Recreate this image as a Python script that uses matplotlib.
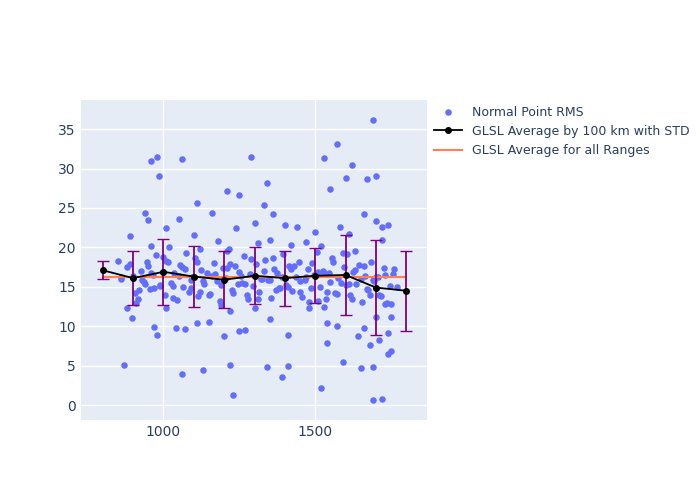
import matplotlib.pyplot as plt

pts_x = [870,980,985,960,1060,1110,1210,1250,1290,1340,1330,1570,1600,1620,1530,1550,1690,1700,1670,1660,1720,1740,
1390,1410,1340,1220,1230,1130,1060,1520,1690,1720,1690,1650,1750,1740,1680,1540,1590,980,1070,1200,1040,970,1110,1250,1270,
1350,1410,1540,1570,1640,1660,1700,1750,1710,1740,895,880,1010,1150,1220,1300,1480,1530,
940,950,960,1010,1020,1050,1100,1120,1160,1180,1210,1240,1300,1310,1350,1360,1400,1420,1440,1470,1500,1520,1580,1610,1630,1700,1720,1760,
850,860,880,890,900,905,915,925,935,945,955,965,975,990,1000,1005,1015,1025,1035,1045,1055,1065,1075,1085,1095,1105,1115,1125,1135,
1145,1155,1165,1175,1185,1195,1205,1215,1225,1235,1245,1255,1265,1275,1285,1295,1305,1315,1325,1335,1345,1355,1365,1375,1385,1395,
1405,1415,1425,1435,1445,1455,1465,1475,1485,1495,1505,1515,1525,1535,1545,1555,1565,1575,1585,1595,1605,1615,1625,1635,1645,1655,
1665,1675,1685,1695,1705,1715,1725,1735,1745,1755,1770,
860,890,910,930,950,970,990,1010,1030,1050,1070,1090,1110,1130,1150,1170,1190,1210,1230,1250,1270,1290,1310,1330,1350,1370,1390,
1410,1430,1450,1470,1490,1510,1530,1550,1570,1590,1610,1630,1650,1670,1690,1710,1730,1750,
920,940,960,1000,1030,1060,1090,1120,1160,1190,1220,1260,1280,1320,1360,1380,1420,1450,1480,1510,1540,1560,1600,1620,1660,1680,1700,1730]
pts_y = [5.1,31.5,29.0,31.0,31.2,25.6,27.1,26.6,31.5,28.2,25.4,33.1,28.8,30.5,31.3,27.4,36.1,29.1,28.7,24.2,22.6,22.8,
3.6,4.9,4.8,5.1,1.3,4.5,3.9,2.2,0.7,0.8,4.8,4.7,6.8,6.5,7.6,7.9,5.5,8.9,9.6,8.8,9.8,9.9,10.4,9.4,9.5,
10.9,8.9,10.4,10.0,8.8,9.8,11.2,11.2,8.2,9.1,11.0,12.3,12.3,10.5,11.9,12.3,12.3,12.5,
24.4,23.5,20.2,22.4,20.0,23.6,21.6,19.8,24.3,20.8,19.6,22.4,23.1,20.6,21.0,24.2,22.9,20.3,22.6,20.7,21.9,20.2,22.6,21.7,19.6,23.4,21.0,17.2,
18.3,16.0,17.5,21.5,16.4,14.2,13.5,17.0,15.6,18.2,14.7,16.5,19.0,15.2,16.9,14.0,18.1,15.5,16.7,13.3,17.8,15.0,19.3,14.4,16.2,18.6,13.8,17.1,15.4,
16.8,14.1,18.0,15.7,13.2,17.4,16.1,19.8,14.6,17.7,15.3,16.4,18.9,13.9,16.6,15.1,17.9,14.3,16.0,18.4,15.8,13.6,17.3,16.7,14.9,19.1,
15.2,17.6,14.5,16.3,18.2,13.7,15.9,17.2,14.8,16.5,19.4,15.0,17.0,13.4,16.8,18.7,14.2,16.1,15.5,17.5,19.2,14.0,16.9,15.3,17.8,13.1,
16.4,14.6,18.1,15.7,16.2,13.8,17.4,12.9,15.1,16.6,15.0,
16.2,17.9,13.0,15.9,17.7,14.8,15.1,18.3,13.6,16.4,17.2,14.9,18.1,15.7,13.9,16.6,15.2,17.4,14.2,16.9,15.4,18.5,13.5,17.0,15.9,14.6,16.3,
15.0,17.6,14.4,16.2,18.0,13.2,16.8,15.6,14.1,19.3,15.3,17.1,16.0,14.7,15.8,13.9,16.5,12.8,
14.6,15.3,16.8,18.8,15.1,17.5,15.9,14.3,16.4,12.7,17.9,15.5,13.4,16.0,18.6,14.9,17.3,15.7,13.1,16.9,14.4,18.2,15.2,13.5,17.6,14.0,16.3,12.8]

avg_x = [800,900,1000,1100,1200,1300,1400,1500,1600,1700,1800]
avg_y = [17.1,16.1,16.9,16.3,15.9,16.4,16.1,16.4,16.5,14.9,14.5]
std = [1.15,3.4,4.15,3.85,3.6,3.6,3.5,3.5,5.1,6.0,5.05]
all_x = [800,1800]
all_y = [16.2,16.2]

fig = plt.figure(figsize=(7,5), dpi=100)
ax = fig.add_axes([0.115,0.16,0.495,0.64])
ax.set_facecolor('#E5ECF6')
for s in ax.spines.values(): s.set_visible(False)
ax.grid(color='white', lw=1)
ax.set_axisbelow(True)
ax.scatter(pts_x, pts_y, s=22, color='#636EFA', label='Normal Point RMS', zorder=2, linewidths=0)
ax.errorbar(avg_x, avg_y, yerr=std, fmt='none', ecolor='purple', capsize=4, lw=1.3, zorder=4)
ax.plot(avg_x, avg_y, color='black', marker='o', ms=4, lw=1.3,
        label='GLSL Average by 100 km with STD', zorder=5)
ax.plot(all_x, all_y, color='#FF7F50', lw=1.5, label='GLSL Average for all Ranges', zorder=3)
ax.set_xlim(727,1868)
ax.set_ylim(-1.9,38.7)
ax.set_xticks([1000,1500])
ax.set_yticks([0,5,10,15,20,25,30,35])
ax.tick_params(length=0, colors='#2a3f5f', labelsize=10)
ax.legend(loc='upper left', bbox_to_anchor=(0.995,1.01), frameon=False, fontsize=9,
          labelcolor='#2a3f5f', handlelength=2.2, borderaxespad=0.3)
fig.savefig('out.png')
